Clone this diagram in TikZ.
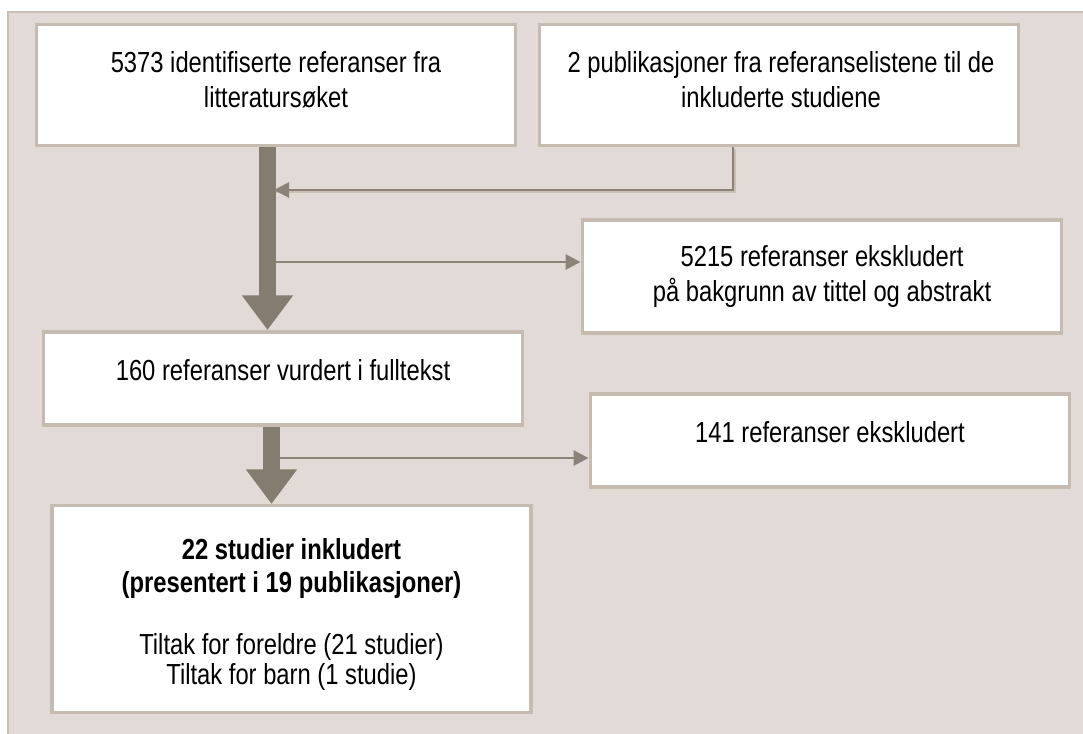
\documentclass[tikz,border=0pt]{standalone}
\usepackage{fontspec}
\setmainfont{Liberation Sans}[FakeStretch=0.82]
\usetikzlibrary{arrows.meta,calc}
\definecolor{bgc}{RGB}{226,218,214}
\definecolor{bgline}{RGB}{201,191,183}
\definecolor{boxline}{RGB}{198,187,177}
\definecolor{arrowc}{RGB}{132,124,113}
\definecolor{thinc}{RGB}{139,130,121}
\begin{document}
\begin{tikzpicture}[x=0.75pt,y=-0.75pt,
  box/.style={draw=boxline, line width=2.625pt, fill=white, inner sep=0pt,
    minimum width=359.6pt},
  txt/.style={inner sep=0pt, align=center, text=black,
    font=\fontsize{21.75pt}{26.25pt}\selectfont},
  bigarrow/.style={draw=arrowc, line width=12.75pt,
    -{Triangle[length=26pt,width=36.75pt]}},
  thinarrow/.style={draw=thinc, line width=2.1pt,
    -{Triangle[length=11.25pt,width=11.25pt]}},
  thinline/.style={draw=thinc, line width=2.1pt}]
\useasboundingbox (0,0) rectangle (1083,733);
\clip (0,0) rectangle (1083,733);
\fill[white] (0,0) rectangle (1083,733);
\fill[bgc] (8,12) rectangle (1090,740);
\draw[bgline, line width=1.5pt] (8,740) -- (8,12) -- (1090,12);

% boxes
\node[box, minimum height=90.4pt] (A) at (276,85) {};
\node[box, minimum height=90.4pt] (B) at (779,85) {};
\node[box, minimum height=85.1pt] (C) at (822,276.5) {};
\node[box, minimum height=70.1pt] (D) at (283,378.5) {};
\node[box, minimum height=70.1pt] (E) at (830,440.5) {};
\node[box, minimum height=154.9pt] (F) at (291.5,609) {};

% texts
\node[txt] (tA) at (276,80) {5373 identifiserte referanser fra\\litteratursøket};
\node[txt] (tB) at (781,80) {2 publikasjoner fra referanselistene til de\\inkluderte studiene};
\node[txt] (tC) at (822,276.5) {5215 referanser ekskludert\\på bakgrunn av tittel og abstrakt};
\node[txt] (tD) at (283,370) {160 referanser vurdert i fulltekst};
\node[txt] (tE) at (830,432) {141 referanser ekskludert};
\node[txt, font=\fontsize{21.75pt}{24.75pt}\selectfont] (tF) at (291.5,614)
  {\textbf{22 studier inkludert}\\\textbf{(presentert i 19 publikasjoner)}\\[21.75pt]Tiltak for foreldre (21 studier)\\[-2.25pt]Tiltak for barn (1 studie)};

% helper coordinates
\coordinate (x1) at (267.5,0);
\coordinate (x2) at (271.5,0);
\coordinate (xb) at (733,0);
\coordinate (j1) at (274,190);
\coordinate (s1) at (276,262);
\coordinate (s2) at (280,458);

% thick arrows
\draw[bigarrow] (A.south -| x1) -- (D.north -| x1);
\draw[bigarrow] (D.south -| x2) -- (F.north -| x2);

% thin connectors
\draw[draw=bgline, line width=2pt, transform canvas={xshift=1.5pt,yshift=-1.5pt}] (B.south -| xb) |- (j1);
\draw[thinarrow] (B.south -| xb) |- (j1);
\draw[thinarrow] (s1) -- (C.west |- s1);
\draw[thinarrow] (s2) -- (E.west |- s2);
\end{tikzpicture}
\end{document}
